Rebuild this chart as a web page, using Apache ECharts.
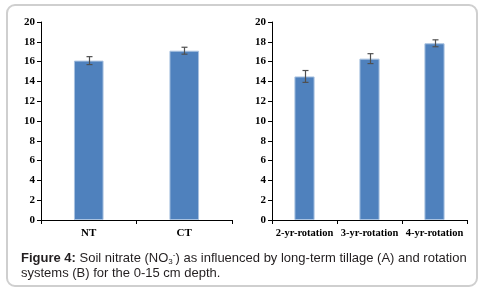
<!DOCTYPE html>
<html>
<head>
<meta charset="utf-8">
<script src="https://cdn.jsdelivr.net/npm/echarts@6/dist/echarts.min.js"></script>
<style>
html,body{margin:0;padding:0;background:#fff;}
#frame{position:absolute;left:6px;top:4px;width:468px;height:279px;border:2px solid #cfcfcf;border-radius:9px;}
#c{position:absolute;left:0;top:0;width:483px;height:293px;}
</style>
</head>
<body>
<div id="frame"></div>
<div id="c"></div>
<script>
// Panel A: tillage
var tillageCats = ['NT', 'CT'];
var tillageMeans = [16.1, 17.1];
var tillageErr = [0.4, 0.35];
// Panel B: rotation
var rotationCats = ['2-yr-rotation', '3-yr-rotation', '4-yr-rotation'];
var rotationMeans = [14.5, 16.3, 17.85];
var rotationErr = [0.6, 0.5, 0.35];
// Axis ticks
var yMin = 0, yMax = 20, yStep = 2;

var chart = echarts.init(document.getElementById('c'), null, {renderer: 'canvas'});

var axisLabelFont = {fontFamily: 'Liberation Serif', fontWeight: 'bold', fontSize: 11, color: '#000'};

function yAxis(idx) {
  return {
    type: 'value', gridIndex: idx, min: yMin, max: yMax, interval: yStep,
    axisLine: {show: true, lineStyle: {color: '#000', width: 1}},
    axisTick: {show: true, length: 4, lineStyle: {color: '#000'}},
    splitLine: {show: false},
    axisLabel: Object.assign({margin: 6}, axisLabelFont)
  };
}
function xAxis(idx, cats, fs) {
  return {
    type: 'category', gridIndex: idx, data: cats,
    axisLine: {show: true, lineStyle: {color: '#000', width: 1}},
    axisTick: {show: true, length: 4, alignWithLabel: false, lineStyle: {color: '#000'}},
    axisLabel: Object.assign({}, axisLabelFont, {fontSize: fs, margin: 8, interval: 0, hideOverlap: false})
  };
}
function errSeries(idx, means, errs) {
  return {
    type: 'custom', xAxisIndex: idx, yAxisIndex: idx, z: 5,
    data: means.map(function (m, i) { return [i, m - errs[i], m + errs[i]]; }),
    renderItem: function (params, api) {
      var lo = api.coord([api.value(0), api.value(1)]);
      var hi = api.coord([api.value(0), api.value(2)]);
      var x = Math.round(lo[0]) + 0.5;
      var w = 3;
      var st = {stroke: '#505050', lineWidth: 1.2};
      return {type: 'group', children: [
        {type: 'line', shape: {x1: x, y1: hi[1], x2: x, y2: lo[1]}, style: st},
        {type: 'line', shape: {x1: x - w, y1: hi[1], x2: x + w, y2: hi[1]}, style: st},
        {type: 'line', shape: {x1: x - w, y1: lo[1], x2: x + w, y2: lo[1]}, style: st}
      ]};
    }
  };
}
function barSeries(idx, means) {
  return {
    type: 'bar', xAxisIndex: idx, yAxisIndex: idx, data: means, barWidth: '31%',
    itemStyle: {color: '#4f81bd', borderColor: '#a9c2e0', borderWidth: 1},
    silent: true
  };
}

var option = {
  animation: false,
  grid: [
    {left: 41, right: 251, top: 22, bottom: 73},
    {left: 272, right: 16, top: 22, bottom: 73}
  ],
  xAxis: [xAxis(0, tillageCats, 11), xAxis(1, rotationCats, 10.5)],
  yAxis: [yAxis(0), yAxis(1)],
  series: [
    barSeries(0, tillageMeans), errSeries(0, tillageMeans, tillageErr),
    barSeries(1, rotationMeans), errSeries(1, rotationMeans, rotationErr)
  ],
  graphic: [
    {
      type: 'text', left: 21, top: 251,
      style: {
        text: '{b|Figure 4:} Soil nitrate (NO{sub|3}{sup|-}) as influenced by long-term tillage (A) and rotation\nsystems (B) for the 0-15 cm depth.',
        font: '13px "Liberation Sans", Arial, sans-serif',
        fill: '#231f20',
        lineHeight: 15,
        rich: {
          b: {fontWeight: 'bold', fontSize: 13, fontFamily: '"Liberation Sans", Arial, sans-serif', fill: '#231f20', lineHeight: 15},
          sub: {fontSize: 8, fontFamily: '"Liberation Sans", Arial, sans-serif', fill: '#231f20', verticalAlign: 'bottom', lineHeight: 15, padding: [6, 0, 0, 0]},
          sup: {fontSize: 8, fontFamily: '"Liberation Sans", Arial, sans-serif', fill: '#231f20', verticalAlign: 'top', lineHeight: 15, padding: [0, 0, 6, 0]}
        }
      }
    }
  ]
};
chart.setOption(option);
</script>
</body>
</html>
